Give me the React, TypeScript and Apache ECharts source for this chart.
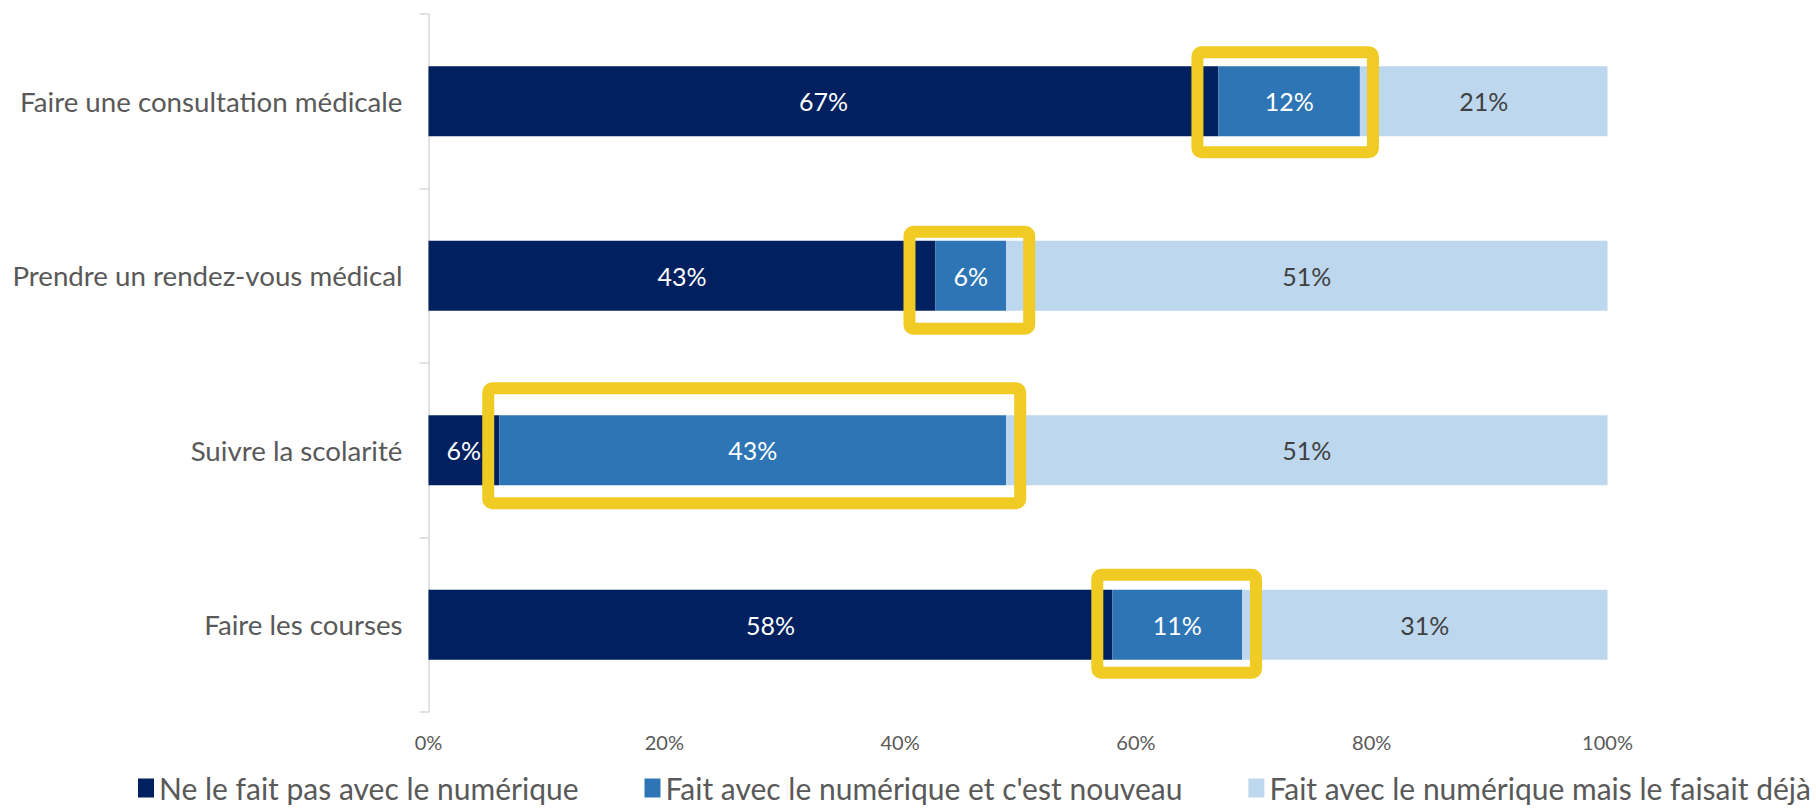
import React, { useEffect, useRef } from "react";
import * as echarts from "echarts";

const categories = [
  "Faire une consultation médicale",
  "Prendre un rendez-vous médical",
  "Suivre la scolarité",
  "Faire les courses",
];
const seriesNames = [
  "Ne le fait pas avec le numérique",
  "Fait avec le numérique et c'est nouveau",
  "Fait avec le numérique mais le faisait déjà",
];
const notDigital = [67, 43, 6, 58];
const newDigital = [12, 6, 43, 11];
const alreadyDigital = [21, 51, 51, 31];
const xTickValues = [0, 20, 40, 60, 80, 100];

// annotation box paddings (px, centre of stroke): left, right, top, bottom
const boxPads = [
  [21, 13, 14, 16],
  [26, 23, 9, 18],
  [11, 14, 27, 18],
  [15, 14, 15, 13],
];

const COLORS = ["#002060", "#2E75B6", "#BDD7EE"];
const YELLOW = "#EFCB24";
const FONT = "Lato";
const BAR_W = 70;

export default function App() {
  const ref = useRef<HTMLDivElement>(null);
  useEffect(() => {
    document.body.style.margin = "0";
    const chart = echarts.init(ref.current!, null, { renderer: "svg" });
    const labelFor = (color: string) => ({
      show: true,
      position: "inside",
      formatter: (p: any) => `${p.value}%`,
      color,
      fontSize: 25,
      fontFamily: FONT,
    });
    const values = [notDigital, newDigital, alreadyDigital];
    const labelColors = ["#ffffff", "#ffffff", "#404040"];
    chart.setOption({
      animation: false,
      textStyle: { fontFamily: FONT },
      grid: { left: 428.5, right: 208.5, top: 14, bottom: 96, containLabel: false },
      legend: {
        data: seriesNames,
        left: 138,
        top: 773,
        width: 1676,
        padding: 0,
        icon: "rect",
        itemWidth: 16,
        itemHeight: 19,
        itemGap: 66,
        textStyle: { color: "#595959", fontSize: 30, fontFamily: FONT },
      },
      xAxis: {
        type: "value",
        min: xTickValues[0],
        max: xTickValues[xTickValues.length - 1],
        interval: xTickValues[1] - xTickValues[0],
        axisLine: { show: false },
        axisTick: { show: false },
        splitLine: { show: false },
        axisLabel: {
          formatter: "{value}%",
          color: "#595959",
          fontSize: 20,
          fontFamily: FONT,
          margin: 20,
        },
      },
      yAxis: {
        type: "category",
        data: categories,
        inverse: true,
        axisLine: { show: true, lineStyle: { color: "#d9d9d9", width: 1.5 } },
        axisTick: { show: true, length: 9, lineStyle: { color: "#d9d9d9", width: 1.5 } },
        axisLabel: { color: "#595959", fontSize: 27.7, fontFamily: FONT, margin: 26 },
      },
      series: [
        ...seriesNames.map((name, k) => ({
          name,
          type: "bar",
          stack: "total",
          barWidth: BAR_W,
          itemStyle: { color: COLORS[k] },
          label: labelFor(labelColors[k]),
          data: values[k],
        })),
        {
          type: "custom",
          silent: true,
          clip: false,
          z: 10,
          encode: { x: [1, 2], y: 0 },
          data: categories.map((_, i) => [i, notDigital[i], notDigital[i] + newDigital[i]]),
          renderItem: (params: any, api: any) => {
            const i = params.dataIndex;
            const cat = api.value(0);
            const a = api.coord([api.value(1), cat]);
            const b = api.coord([api.value(2), cat]);
            const [l, r, t, bm] = boxPads[i];
            const half = BAR_W / 2;
            return {
              type: "rect",
              shape: {
                x: a[0] - l,
                y: a[1] - half - t,
                width: b[0] - a[0] + l + r,
                height: 2 * half + t + bm,
                r: 4,
              },
              style: { fill: "none", stroke: YELLOW, lineWidth: 12, lineJoin: "round" },
            };
          },
        },
      ],
    });
    return () => chart.dispose();
  }, []);
  return <div ref={ref} style={{ width: 1816, height: 808 }} />;
}
